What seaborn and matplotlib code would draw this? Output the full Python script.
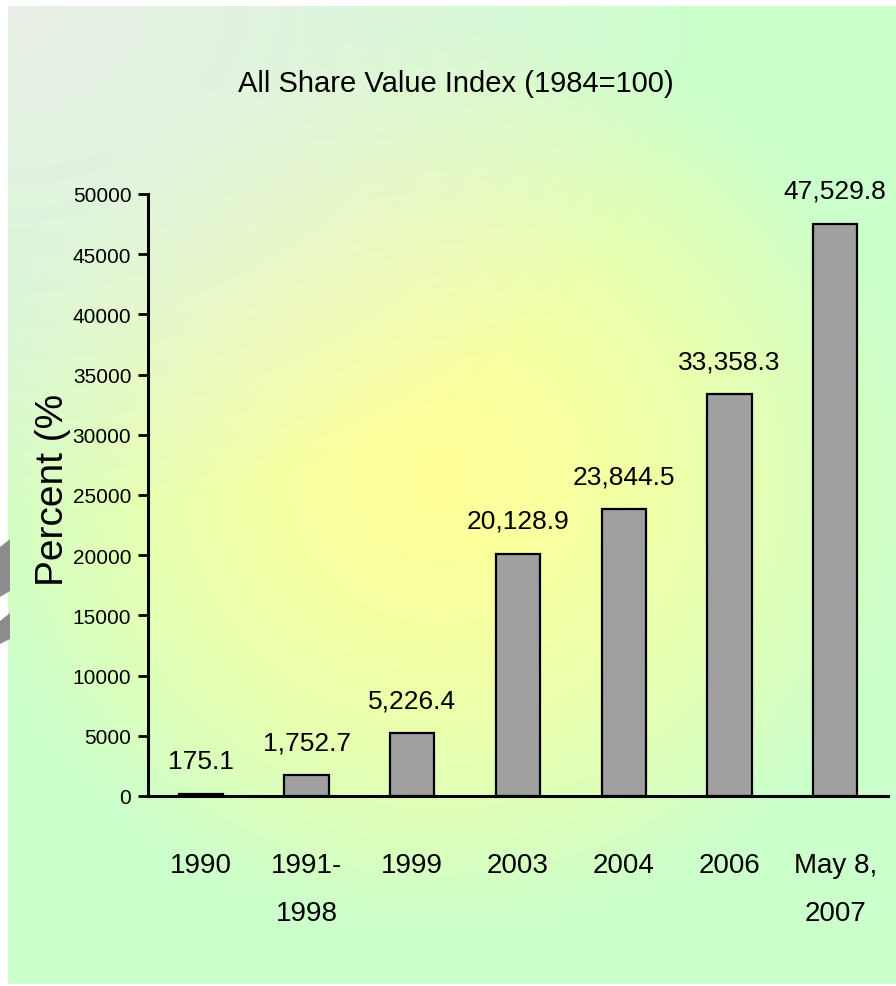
import numpy as np
import pandas as pd
import matplotlib.pyplot as plt
import matplotlib.patches as mpatches
import seaborn as sns

# Veri
categories = ['1990', '1991-\n1998', '1999', '2003', '2004', '2006', 'May 8,\n2007']
values = [175.1, 1752.7, 5226.4, 20128.9, 23844.5, 33358.3, 47529.8]
yticks = [0, 5000, 10000, 15000, 20000, 25000, 30000, 35000, 40000, 45000, 50000]

sns.set_style("white")
fonts = ['Liberation Sans', 'DejaVu Sans']
plt.rcParams['font.family'] = fonts
plt.rcParams['text.color'] = 'black'
plt.rcParams['xtick.color'] = 'black'
plt.rcParams['ytick.color'] = 'black'

W, H = 896, 987
fig = plt.figure(figsize=(W / 100, H / 100), dpi=100)

# Arka plan: sarı merkezli radyal geçiş, sol üst köşe grimsi
bg = fig.add_axes([0, 0, 1, 1], zorder=-10)
yy, xx = np.mgrid[0:H, 0:W]
d = np.hypot(xx - 440, (yy - 480) * 1.05)
t = np.clip(d / 480, 0, 1) ** 1.5
yellow = np.array([1.0, 1.0, 0.6])
green = np.array([0.80, 1.0, 0.80])
img = yellow * (1 - t[..., None]) + green * t[..., None]
w = np.clip(1 - np.hypot(xx * 0.9, yy * 1.2) / 620, 0, 1) ** 0.8
w = (w * 0.95)[..., None]
grey = np.array([0.925, 0.935, 0.915])
img = img * (1 - w) + grey * w
img[:7, :] = 1
img[:, :8] = 1
img[985:, :] = 1
bg.imshow(img, aspect='auto', extent=[0, W, H, 0])
bg.set_axis_off()

# sol kenardaki gri süsler
for pts in ([(0, 548), (10, 540), (10, 592), (0, 598)], [(0, 622), (10, 614), (10, 640), (0, 645)]):
    fig.patches.append(mpatches.Polygon([(x / W, 1 - y / H) for x, y in pts], closed=True,
                                        transform=fig.transFigure, color='#8c8c8c', lw=0))

ax = fig.add_axes([148 / W, 1 - 797 / H, (888 - 148) / W, (797 - 195) / H])
ax.set_facecolor('none')

df = pd.DataFrame({'cat': categories, 'val': values})
sns.barplot(data=df, x='cat', y='val', color='#a0a0a0', saturation=1, width=0.42,
            edgecolor='black', linewidth=1.6, ax=ax)

for i, v in enumerate(values):
    ax.annotate(f"{v:,.1f}", (i, v), xytext=(0, 15), textcoords='offset points',
                ha='center', va='bottom', fontsize=19)

ax.set_xlim(-0.5, len(categories) - 0.5)
ax.set_ylim(0, 50000)
ax.set_yticks(yticks)
ax.set_yticklabels([str(v) for v in yticks], fontsize=15)
ax.set_xticks(range(len(categories)))
ax.set_xticklabels(categories, fontsize=20, linespacing=2.1)
ax.set_xticks(np.arange(-0.5, len(categories)), minor=True)
ax.tick_params(axis='x', which='major', length=0, pad=40)
ax.tick_params(axis='x', which='minor', length=12, width=2, direction='out', color='black')
ax.tick_params(axis='y', length=7, width=2, direction='out', color='black', pad=5, left=True)
ax.set_xlabel('')
ax.set_ylabel('')
sns.despine(ax=ax, top=True, right=True)
for s in ['left', 'bottom']:
    ax.spines[s].set_linewidth(2.2)
    ax.spines[s].set_color('black')

fig.text(456 / W, 1 - 84 / H, 'All Share Value Index (1984=100)', ha='center', va='center',
         fontsize=21)
fig.text(53 / W, 1 - 490 / H, 'Percent (%', rotation=90, ha='center', va='center',
         fontsize=28)

fig.savefig('out.png', dpi=100)
